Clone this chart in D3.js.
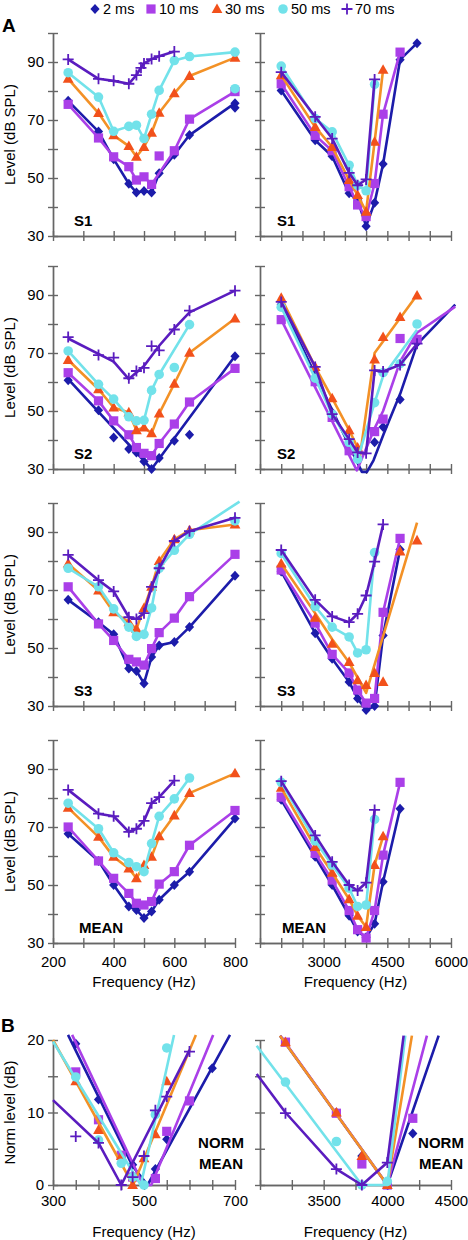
<!DOCTYPE html>
<html><head><meta charset="utf-8">
<script src="https://cdn.jsdelivr.net/npm/d3@7"></script>
<style>
body{margin:0;background:#fff}
svg{display:block}
text{font-family:"Liberation Sans",Arial,sans-serif;fill:#000}
</style>
</head><body>
<svg id="chart" width="468" height="1240"></svg>
<script>
// ---------- categories / labels ----------
const seriesNames = ["2 ms","10 ms","30 ms","50 ms","70 ms"];
const rowLabels = ["S1","S2","S3","MEAN"];
const freqLow = [250,350,400,450,475,500,525,550,600,650,800];
const freqHigh = [2000,2800,3200,3600,3800,4000,4200,4400,4800,5200];
const xTicksLow = [200,300,400,500,600,700,800];
const xLabelsLow = [200,400,600,800];
const xTicksHigh = [1500,2000,2500,3000,3500,4000,4500,5000,5500,6000];
const xLabelsHigh = [3000,4500,6000];
const yTicksA = [30,40,50,60,70,80,90,100];
const yLabelsA = [30,50,70,90];
const xTicksBLow = [300,350,400,450,500,550,600,650,700];
const xLabelsBLow = [300,500,700];
const xTicksBHigh = [3000,3250,3500,3750,4000,4250,4500];
const xLabelsBHigh = [3500,4000,4500];
const yTicksB = [0,5,10,15,20];
const yLabelsB = [0,10,20];

// ---------- series values (dB SPL); rows follow seriesNames ----------
const S1_LOW = [
 [76.6,66,56.5,48,45,45.5,45,51.6,58,64.8,75.8],
 [75.4,63.8,57.3,53.9,49.3,50.4,47.8,57.6,59.4,70.3,79.8],
 [84.2,72.4,64.7,61,57.3,60.7,65.6,72.5,79.2,85.2,91.5],
 [86.3,77.9,66.1,67.8,68.2,63.6,72,80.2,90.5,91.9,93.4],
 [[250,90.9],[350,84.2],[400,83.5],[450,82.5],[475,85.5],[490,88],[500,89.5],[525,91],[550,92],[600,93.6]]
];
const S1_LOW_FIT = [null,[[250,75.4],[350,63.8],[400,57.3],[450,53.9],[475,49.3],[500,50.4],[525,47.8],[600,59.4],[650,70.3],[800,79.8]],null,null,null];
const S1_LOW_EXTRA = [[0,800,74.2],[3,800,80.8]];
const S1_HIGH = [
 [80.2,63,57.5,44.7,42.4,33.4,41.5,54.8,90.8,96.5],
 [82.5,64.7,59.4,47,40.7,36.7,48.1,72,93.4],
 [85.4,67.6,60.7,49.3,44.1,38.4,62.5,87.3],
 [88.6,70.5,65.9,54.4,47.5,45.6,82.3],
 [86.5,71.1,63.6,51.8,47.5,49.5,84]
];
const S2_LOW = [
 [60.6,50.3,40.9,36.9,35.7,32.6,30,33.8,39.7,41.8,68.9],
 [63.2,53.5,46.6,41.8,37.4,35.4,34.6,38.8,45.5,53.1,64.7],
 [67.6,57.5,51.2,49.5,43.4,44.3,42.3,49.1,59.4,70.1,81.9],
 [70.7,59.2,54.1,48,46.6,46.8,57.1,62.6,65,79.8],
 [75.5,69.3,68.4,61.3,63.8,64.9,72.4,70.9,78.1,84.6,91.5]
];
const S2_LOW_FIT = [
 [[250,61],[525,30],[800,69]],
 null,null,
 [[250,70.7],[350,59.2],[400,54.1],[450,48],[475,46.6],[500,46.8],[525,57.1],[550,62.6],[650,79.8]],
 [[250,75],[400,67],[450,61],[500,65.5],[550,72.5],[600,78.5],[650,84],[800,91.5]]
];
const S2_HIGH = [
 [86.7,61.3,49.5,39.2,null,null,39.2,44.5,54,73.5],
 [81.5,60.1,47.8,36.3,null,null,42.9,47.2,75,74.7],
 [89,65.2,54.4,43.4,37.4,null,67.8,75.5,82.4,89.8],
 [85.8,61.3,48.9,39.2,33.4,null,52.9,63.2,66.3,80],
 [87.6,65.2,48.9,40.3,35.7,35.4,64,63.6,65.9,73.2]
];
const S2_HIGH_FIT = [
 [[2000,87],[3900,29],[4020,29],[4175,33],[4411,42],[4805,56],[5200,73],[6100,86.7]],
 [[2000,81.5],[3780,29.5],[4200,44],[4400,50],[4800,67],[5200,77],[6100,86]],
 [[2000,89],[2800,65.2],[3200,54.4],[3600,43.4],[3800,37.4],[3850,34],[4200,70],[5200,90]],
 [[2000,85.8],[2800,61.3],[3200,48.9],[3600,39.2],[3800,33.4],[4200,52.9],[4400,62],[5200,78]],
 null
];
const S3_LOW = [
 [66.6,58.9,54.7,42.9,42.1,37.8,46.9,50.9,52.1,57.2,74.9],
 [71.1,58.3,52.6,46.1,45.2,44.1,49.8,55.3,60.3,67.7,82.3],
 [79.1,69.8,62.3,58.9,56.6,63.8,71.1,80,87.5,90.6,92.6],
 [77.5,71.1,63.5,57.2,54,54.7,63.8,77.5,83.7,89.2,93.8],
 [82.1,73.4,69.5,60.6,60,62,71.1,77.5,86.9,90.3,94.9]
];
const S3_LOW_FIT = [null,null,null,
 [[250,77.5],[350,71.1],[400,63.5],[450,57.2],[475,54],[500,54.7],[525,63.8],[550,77.5],[600,83.7],[650,89.2],[815,100.5]],
 null];
const S3_HIGH = [
 [76.4,55.1,46.3,38.3,32.6,28.6,30,54.3,84],
 [76.9,58.6,47.8,41.4,35.5,31,32.6,62.3,87.8],
 [79.1,60.4,51.5,45.2,38.9,37.2,41.4,38.3,83.3,87.1],
 [82.6,64.3,57.2,53.8,48.3,49.4,82.9],
 [83.8,66.6,60.9,58.9,61.8,68.1,79.8,92.6]
];
const S3_HIGH_FIT = [null,null,[[2000,79.1],[2800,62],[3200,53],[3600,45],[4000,34.5],[5200,93.2]],null,null];
const MEAN_LOW = [
 [67.7,58.3,50,42.6,41.4,38.6,40.9,44.9,50,54.6,72.9],
 [70,58.3,52.3,47.1,43.7,43.1,44.3,50.3,54.6,63.7,75.7],
 [76.6,66.6,59.7,55.7,52.3,56.9,59.7,66.8,74,81.7,88.5],
 [78.2,69.4,61.1,57.7,56.3,54.6,64.3,73.7,79.7,86.9],
 [82.8,74.6,73.7,68.3,69.4,72.1,78.2,80.3,86]
];
const MEAN_HIGH = [
 [79.4,59.7,50,39.4,34,32,36.6,51.1,76.3],
 [80.3,60.9,51.7,41.2,34.6,31.7,41.2,60.3,85.4],
 [83.5,63.1,54.2,45.1,39.4,35.5,56.9,66.8],
 [85.4,65.2,56.9,48.9,42.6,43.1,72.6],
 [85.8,67.1,58,50,48.1,50.8,75.9]
];
// ---------- panel B: normalised mean (dB) ----------
const NORM_LOW = [
 [[350,19.5],[400,11.8],[475,2.8],[525,2.2],[550,6.3],[650,16.1]],
 [[350,15.6],[400,9],[450,4.1],[475,1.1],[525,0.9],[550,7.4],[600,11.6]],
 [[350,14.3],[400,7.6],[450,4],[475,0],[500,3.7],[525,7],[550,14.3]],
 [[350,14.9],[400,6.2],[450,3],[475,1.1],[500,0],[525,9.7],[550,18.9]],
 [[350,6.7],[400,5.8],[450,0],[475,1.1],[500,4],[525,10.3],[550,12.2],[600,18.4]]
];
const NORM_LOW_FIT = [
 [[333,20.7],[475,2.6],[508,0],[689,20.7]],
 [[342,20.7],[498,0],[516,0],[652,20.7]],
 [[300,20],[476,0],[614,20.7]],
 [[300,19.8],[493,0],[566,20.7]],
 [[300,11.7],[400,5.8],[450,0],[600,18.6]]
];
const NORM_HIGH = [
 [[3600,10],[3800,4],[4000,0],[4200,7.1]],
 [[3200,19.7],[3600,9.9],[3800,2.9],[4000,0],[4200,9.2]],
 [[3200,19.7],[3600,10],[3800,4],[4000,0]],
 [[3200,14.2],[3600,6],[3800,0],[4000,0.5]],
 [[3200,9.9],[3600,2.2],[3800,0],[4000,3.1]]
];
const NORM_HIGH_FIT = [
 [[3157,20.6],[4000,0],[4403,20.6]],
 [[3160,20.6],[4000,0],[4311,20.6]],
 [[3157,20.6],[4000,0],[4193,20.6]],
 [[2974,19.2],[3800,0],[4000,0],[4141,20.6]],
 [[2974,15.3],[3200,10],[3600,2.2],[3800,0],[4000,3.1],[4128,20.6]]
];

// ---------- styles ----------
const markerColors = ["#1c1caa","#aa3fe8","#f2511b","#72e2ea","#5a1cbf"];
const lineColors   = ["#1c1caa","#aa3fe8","#f39126","#72e2ea","#5a1cbf"];
const shapePaths = [
  "M0,-5L4.6,0L0,5L-4.6,0Z",
  "M-4.6,-4.6H4.6V4.6H-4.6Z",
  "M0,-5.6L5.4,4L-5.4,4Z",
  "M4.8,0A4.8,4.8 0 1,1 -4.8,0A4.8,4.8 0 1,1 4.8,0Z",
  "M-5.5,0H5.5M0,-5.5V5.5"
];

const svg = d3.select("#chart");
const axisColor = "#666";

const colLeft = [53,235], colRight = [260,451];
const rowBottom = [236,469,706,943];
const aHeight = 203;

function toPts(freqs, s){
  if (s.length && Array.isArray(s[0])) return s;
  const out=[]; s.forEach((v,i)=>{ if(v!=null) out.push([freqs[i],v]); });
  return out;
}
function marker(g, i, x, y){
  const p = g.append("path").attr("d", shapePaths[i]).attr("transform",`translate(${x},${y})`);
  if (i===4) p.attr("fill","none").attr("stroke",markerColors[i]).attr("stroke-width",1.8);
  else p.attr("fill",markerColors[i]);
}
function drawAxes(g, x, y, xTicks, xLabels, yTicks, yLabels, showXLabels, showYLabels, xPad){
  const yb = y.range()[0];
  const x0 = x.range()[0];
  const fmtX = d => (showXLabels && xLabels.includes(d)) ? d : "";
  const fmtY = d => (showYLabels && yLabels.includes(d)) ? d : "";
  const ax1 = g.append("g").attr("transform",`translate(0,${yb})`)
    .call(d3.axisBottom(x).tickValues(xTicks).tickSize(5).tickSizeOuter(0).tickPadding(xPad).tickFormat(fmtX));
  const ax2 = g.append("g").attr("transform",`translate(0,${yb})`)
    .call(d3.axisTop(x).tickValues(xTicks).tickSize(5).tickSizeOuter(0).tickFormat(""));
  const ay1 = g.append("g").attr("transform",`translate(${x0},0)`)
    .call(d3.axisLeft(y).tickValues(yTicks).tickSize(5).tickSizeOuter(0).tickPadding(4).tickFormat(fmtY));
  const ay2 = g.append("g").attr("transform",`translate(${x0},0)`)
    .call(d3.axisRight(y).tickValues(yTicks).tickSize(5).tickSizeOuter(0).tickFormat(""));
  [ax1,ax2,ay1,ay2].forEach(a=>{
    a.selectAll("path,line").attr("stroke",axisColor).attr("stroke-width",1.4);
    a.selectAll("text").attr("font-size",15).attr("font-family",'"Liberation Sans",Arial,sans-serif').attr("fill","#000");
  });
}
function drawSeries(g, x, y, freqs, series, fits, extras){
  const line = d3.line().x(d=>x(d[0])).y(d=>y(d[1]));
  series.forEach((s,i)=>{
    const pts = toPts(freqs, s);
    const lp = (fits && fits[i]) ? fits[i] : pts;
    g.append("path").attr("d",line(lp)).attr("fill","none")
      .attr("stroke",lineColors[i]).attr("stroke-width",2.6).attr("stroke-linejoin","round");
    pts.forEach(p=>marker(g,i,x(p[0]),y(p[1])));
  });
  (extras||[]).forEach(e=>marker(g,e[0],x(e[1]),y(e[2])));
}

const panelsA = [
  [S1_LOW,S1_LOW_FIT,S1_LOW_EXTRA,S1_HIGH,null],
  [S2_LOW,S2_LOW_FIT,null,S2_HIGH,S2_HIGH_FIT],
  [S3_LOW,S3_LOW_FIT,null,S3_HIGH,S3_HIGH_FIT],
  [MEAN_LOW,null,null,MEAN_HIGH,null]
];

panelsA.forEach((p,r)=>{
  const yb = rowBottom[r];
  const y = d3.scaleLinear().domain([30,100]).range([yb, yb-aHeight]);
  const xl = d3.scaleLinear().domain([200,800]).range(colLeft);
  const xr = d3.scaleLinear().domain([1500,6000]).range(colRight);
  const last = r===3;
  const gl = svg.append("g"), gr = svg.append("g");
  drawAxes(gl, xl, y, xTicksLow, xLabelsLow, yTicksA, yLabelsA, last, true, 8);
  drawAxes(gr, xr, y, xTicksHigh, xLabelsHigh, yTicksA, [], last, false, 8);
  drawSeries(gl, xl, y, freqLow, p[0], p[1], p[2]);
  drawSeries(gr, xr, y, freqHigh, p[3], p[4], null);
  // subject labels
  svg.append("text").attr("x", r===3?79:74).attr("y", yb-10).attr("font-size",15).attr("font-weight","bold").text(rowLabels[r]);
  svg.append("text").attr("x", r===3?282:277).attr("y", yb-10).attr("font-size",15).attr("font-weight","bold").text(rowLabels[r]);
  // y title
  svg.append("text").attr("transform",`translate(15,${yb-aHeight/2}) rotate(-90)`)
    .attr("text-anchor","middle").attr("font-size",15).text("Level (dB SPL)");
  if (last){
    svg.append("text").attr("x",(colLeft[0]+colLeft[1])/2).attr("y",yb+44).attr("text-anchor","middle").attr("font-size",15).text("Frequency (Hz)");
    svg.append("text").attr("x",(colRight[0]+colRight[1])/2).attr("y",yb+44).attr("text-anchor","middle").attr("font-size",15).text("Frequency (Hz)");
  }
});

// ---------- panel B ----------
(function(){
  const yb = 1185;
  const y = d3.scaleLinear().domain([0,20]).range([yb,1040]);
  const xl = d3.scaleLinear().domain([300,700]).range(colLeft);
  const xr = d3.scaleLinear().domain([3000,4500]).range(colRight);
  const gl = svg.append("g"), gr = svg.append("g");
  drawAxes(gl, xl, y, xTicksBLow, xLabelsBLow, yTicksB, yLabelsB, true, true, 5);
  drawAxes(gr, xr, y, xTicksBHigh, xLabelsBHigh, yTicksB, [], true, false, 5);
  drawSeries(gl, xl, y, null, NORM_LOW, NORM_LOW_FIT, null);
  drawSeries(gr, xr, y, null, NORM_HIGH, NORM_HIGH_FIT, null);
  svg.append("text").attr("transform",`translate(15,${(1040+yb)/2}) rotate(-90)`)
    .attr("text-anchor","middle").attr("font-size",15).text("Norm level (dB)");
  [[221,"NORM",1148],[221,"MEAN",1169],[441,"NORM",1148],[441,"MEAN",1169]].forEach(t=>{
    svg.append("text").attr("x",t[0]).attr("y",t[2]).attr("text-anchor","middle")
      .attr("font-size",15).attr("font-weight","bold").text(t[1]);
  });
  svg.append("text").attr("x",(colLeft[0]+colLeft[1])/2).attr("y",1237).attr("text-anchor","middle").attr("font-size",15).text("Frequency (Hz)");
  svg.append("text").attr("x",(colRight[0]+colRight[1])/2).attr("y",1237).attr("text-anchor","middle").attr("font-size",15).text("Frequency (Hz)");
})();

// ---------- panel letters ----------
svg.append("text").attr("x",2).attr("y",32).attr("font-size",19).attr("font-weight","bold").text("A");
svg.append("text").attr("x",1).attr("y",1032).attr("font-size",19).attr("font-weight","bold").text("B");

// ---------- legend ----------
const legendX = [95,151,217,283,347];
const lg = svg.append("g");
seriesNames.forEach((n,i)=>{
  marker(lg, i, legendX[i], 9);
  lg.append("text").attr("x",legendX[i]+8).attr("y",14).attr("font-size",14.5).text(n);
});
</script>
</body></html>
